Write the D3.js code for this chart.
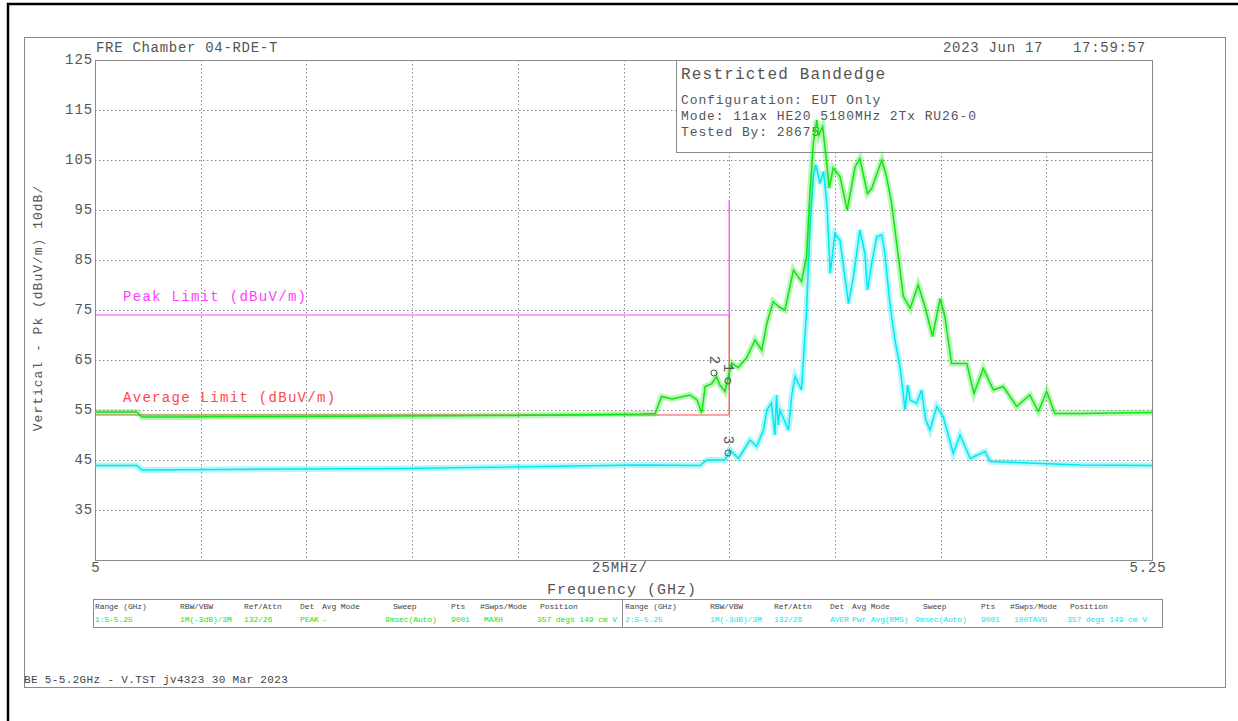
<!DOCTYPE html>
<html>
<head>
<meta charset="utf-8">
<script src="https://cdn.jsdelivr.net/npm/d3@7"></script>
<style>
body{margin:0;background:#fff;}
svg{display:block;}
text{font-family:"Liberation Mono","DejaVu Sans Mono",monospace;}
</style>
</head>
<body>
<svg width="1238" height="721"></svg>
<script>
// ---- data ----
const freqDomain=[5.0,5.25];
const levelDomain=[25,125];
const levelTicks=[35,45,55,65,75,85,95,105,115,125];
const freqGrid=[5.025,5.05,5.075,5.1,5.125,5.15,5.175,5.2,5.225];

// trace 1 : peak, max hold (green)
const peakFreq=[5.0,5.0099,5.0111,5.0485,5.0958,5.1289,5.1325,5.1340,5.1365,5.1407,5.1424,5.1435,5.1443,5.1458,5.1470,5.1478,5.1490,5.1498,5.1506,
  5.1521,5.1541,5.1561,5.1577,5.1589,5.1604,5.1620,5.1632,5.1652,5.1671,5.1683,5.1691,5.1699,5.1707,5.1712,5.1721,5.1729,5.1737,5.1746,
  5.1762,5.1779,5.1798,5.1809,5.1827,5.1837,5.1861,5.1872,5.1884,5.1900,5.1912,5.1928,5.1947,5.1963,5.1981,5.1999,5.2010,5.2026,5.2062,
  5.2079,5.2101,5.2125,5.2148,5.2180,5.2211,5.2231,5.2251,5.2270,5.2330,5.25];
const peakLevel=[54.6,54.6,53.6,53.7,53.9,54.2,54.3,57.7,57.2,58.0,57.0,54.4,59.7,60.2,61.7,60.0,58.7,61.7,64.4,
  63.5,65.4,69.0,67.0,72.3,76.7,75.5,75.0,83.0,80.7,85.7,98.4,108.4,113.0,110.0,111.7,105.7,99.4,103.4,
  101.7,95.0,103.7,105.3,98.3,99.3,105.0,101.7,96.4,85.7,77.7,75.3,80.0,75.7,69.7,77.3,73.7,64.3,64.3,
  58.3,63.3,59.0,59.7,55.7,58.0,54.7,58.7,54.3,54.3,54.5];

// trace 2 : average, RMS (cyan)
const avgFreq=[5.0,5.0099,5.0111,5.0721,5.1289,5.1431,5.1447,5.1490,5.1502,5.1522,5.1549,5.1565,5.1581,5.1589,5.1600,5.1608,5.1612,5.1616,
  5.1620,5.1630,5.1640,5.1648,5.1656,5.1671,5.1683,5.1691,5.1699,5.1705,5.1715,5.1723,5.1731,5.1739,5.1750,5.1762,5.1782,5.1794,
  5.1809,5.1821,5.1827,5.1837,5.1849,5.1861,5.1868,5.1880,5.1892,5.1904,5.1916,5.1922,5.1928,5.1943,5.1955,5.1965,5.1975,5.1991,
  5.2006,5.2030,5.2046,5.2070,5.2105,5.2117,5.2330,5.25];
const avgLevel=[43.9,43.9,43.0,43.3,44.0,43.9,45.0,45.0,47.0,45.3,49.0,47.7,51.0,55.0,56.4,50.0,58.0,52.0,
  55.0,53.0,51.0,58.0,61.7,59.0,75.0,91.7,101.7,104.0,100.3,102.7,96.3,82.3,90.3,89.0,76.3,81.7,
  91.0,86.3,79.0,84.3,89.7,90.0,86.3,76.3,69.0,63.7,55.0,60.0,57.0,56.3,59.0,53.0,51.0,55.7,
  53.7,46.3,50.0,45.3,46.7,44.7,44.0,43.9];

// limits (dBuV/m) and band edge (GHz)
const peakLimit=74, avgLimit=54, bandEdge=5.15, edgeTop=97;

// markers
const markerId=["1","2","3"];
const markerFreq=[5.1497,5.1464,5.1497];
const markerLevel=[60.8,62.4,46.4];

// settings table
const tableHeads=["Range (GHz)","RBW/VBW","Ref/Attn","Det","Avg Mode","Sweep","Pts","#Swps/Mode","Position"];
const tableRow1=["1:5-5.25","1M(-3dB)/3M","132/26","PEAK","-","9msec(Auto)","9001","MAXH","357 degs 149 cm V"];
const tableRow2=["2:5-5.25","1M(-3dB)/3M","132/26","AVER","Pwr Avg(RMS)","9msec(Auto)","9001","100TAVG","357 degs 149 cm V"];

const infoLines=["Configuration: EUT Only","Mode: 11ax HE20 5180MHz 2Tx RU26-0","Tested By: 28675"];

// ---- drawing ----
const svg=d3.select("svg");
const GREEN="#12e412", CYAN="#00e8f0", MAG="#ff40ff", RED="#ff4646", GREY="#555";

const x=d3.scaleLinear().domain(freqDomain).range([95,1152]);
const y=d3.scaleLinear().domain(levelDomain).range([560,60]);

function label(s,px,py,size,ls,anchor,color){
    return svg.append("text")
              .attr("x",px).attr("y",py)
              .attr("font-size",size)
              .attr("letter-spacing",ls)
              .attr("text-anchor",anchor||"start")
              .attr("dominant-baseline","central")
              .style("fill",color||GREY)
              .text(s);
}

// page frames
svg.append("path").attr("d","M 8 721 L 8 4 L 1238 4")
   .attr("fill","none").attr("stroke","#000").attr("stroke-width",2.5);
svg.append("rect").attr("x",24.5).attr("y",37.5).attr("width",1201).attr("height",650)
   .attr("fill","none").attr("stroke","#8a8a8a");

// grid
const grid=svg.append("g").attr("stroke","#8a8a8a").attr("stroke-dasharray","1.5,2.5");
grid.selectAll(".h").data(levelTicks.filter(v=>v<125)).enter().append("line")
    .attr("x1",x(freqDomain[0])).attr("x2",x(freqDomain[1]))
    .attr("y1",d=>Math.round(y(d))+0.5).attr("y2",d=>Math.round(y(d))+0.5);
grid.selectAll(".v").data(freqGrid).enter().append("line")
    .attr("x1",d=>Math.round(x(d))+0.5).attr("x2",d=>Math.round(x(d))+0.5)
    .attr("y1",y(levelDomain[1])).attr("y2",y(levelDomain[0]));

// plot border
svg.append("rect").attr("x",x(freqDomain[0])+0.5).attr("y",y(levelDomain[1])+0.5)
   .attr("width",x(freqDomain[1])-x(freqDomain[0])).attr("height",y(levelDomain[0])-y(levelDomain[1]))
   .attr("fill","none").attr("stroke","#8a8a8a");

// info box (hides the grid behind it)
svg.append("rect").attr("x",676.5).attr("y",60.5).attr("width",476).attr("height",92)
   .attr("fill","#fff").attr("stroke","#8a8a8a");
label("Restricted Bandedge",681,75,16,1.2);
infoLines.forEach((s,i)=>label(s,681,100+i*16,13,0.9));

// y tick labels
levelTicks.forEach(v=>label(v,93,y(v),14,0.9,"end"));
// x labels
label("5",x(5.0)+1,568,14,0.9,"middle");
label("25MHz/",620,568,14,0.9,"middle");
label("5.25",1148,568,14,0.9,"middle");
label("Frequency (GHz)",622,590,15,1,"middle");
svg.append("text").attr("transform","translate(38,308) rotate(-90)")
   .attr("font-size",13).attr("letter-spacing",1).attr("text-anchor","middle")
   .attr("dominant-baseline","central").style("fill",GREY)
   .text("Vertical - Pk (dBuV/m) 10dB/");

// header
label("FRE Chamber 04-RDE-T",96,48,14,0.7);
label("2023 Jun 17",943,48,14,0.7);
label("17:59:57",1073,48,14,0.7);

// limit lines
const line=d3.line().x(d=>x(d[0])).y(d=>y(d[1]));
svg.append("path").attr("d",line([[freqDomain[0],peakLimit],[bandEdge,peakLimit],[bandEdge,edgeTop]]))
   .attr("fill","none").attr("stroke",MAG).attr("stroke-width",1.2);
svg.append("path").attr("d",line([[freqDomain[0],avgLimit],[bandEdge,avgLimit],[bandEdge,peakLimit]]))
   .attr("fill","none").attr("stroke",RED).attr("stroke-width",1.2);
label("Peak Limit (dBuV/m)",123,297,14,1.3,"start",MAG);
label("Average Limit (dBuV/m)",123,398,14,1.3,"start",RED);

// traces: a soft noise band plus the core line
function trace(fs,ls,col){
    const pts=fs.map((f,i)=>[f,ls[i]]);
    svg.append("path").attr("d",line(pts)).attr("fill","none")
       .attr("stroke",col).attr("stroke-width",6).attr("stroke-opacity",0.3);
    svg.append("path").attr("d",line(pts)).attr("fill","none")
       .attr("stroke",col).attr("stroke-width",1.5);
}
trace(avgFreq,avgLevel,CYAN);
trace(peakFreq,peakLevel,GREEN);

// markers
markerId.forEach((id,i)=>{
    const mx=x(markerFreq[i]), my=y(markerLevel[i]);
    svg.append("circle").attr("cx",mx).attr("cy",my).attr("r",3)
       .attr("fill","none").attr("stroke",GREY);
    svg.append("text").attr("transform",`translate(${mx},${my-13}) rotate(90)`)
       .attr("font-size",14).attr("text-anchor","middle")
       .attr("dominant-baseline","central").style("fill",GREY).text(id);
});

// settings table
svg.append("rect").attr("x",93.5).attr("y",599.5).attr("width",1069).attr("height",28)
   .attr("fill","none").attr("stroke","#8a8a8a");
svg.append("line").attr("x1",622.5).attr("x2",622.5).attr("y1",599.5).attr("y2",627.5)
   .attr("stroke","#8a8a8a");
const headOff=[0,85,149,205,227,298,356,385,445];
const valOff=[0,85,149,205,227,290,356,389,442];
[[95,tableRow1,GREEN],[625,tableRow2,CYAN]].forEach(([x0,row,col])=>{
    tableHeads.forEach((h,i)=>label(h,x0+headOff[i],606,8,-0.1,"start","#444"));
    row.forEach((v,i)=>label(v,x0+valOff[i],619,8,-0.1,"start",col));
});

// footer
label("BE 5-5.2GHz - V.TST  jv4323 30 Mar 2023",24,680,11,0.35,"start","#444");
</script>
</body>
</html>
